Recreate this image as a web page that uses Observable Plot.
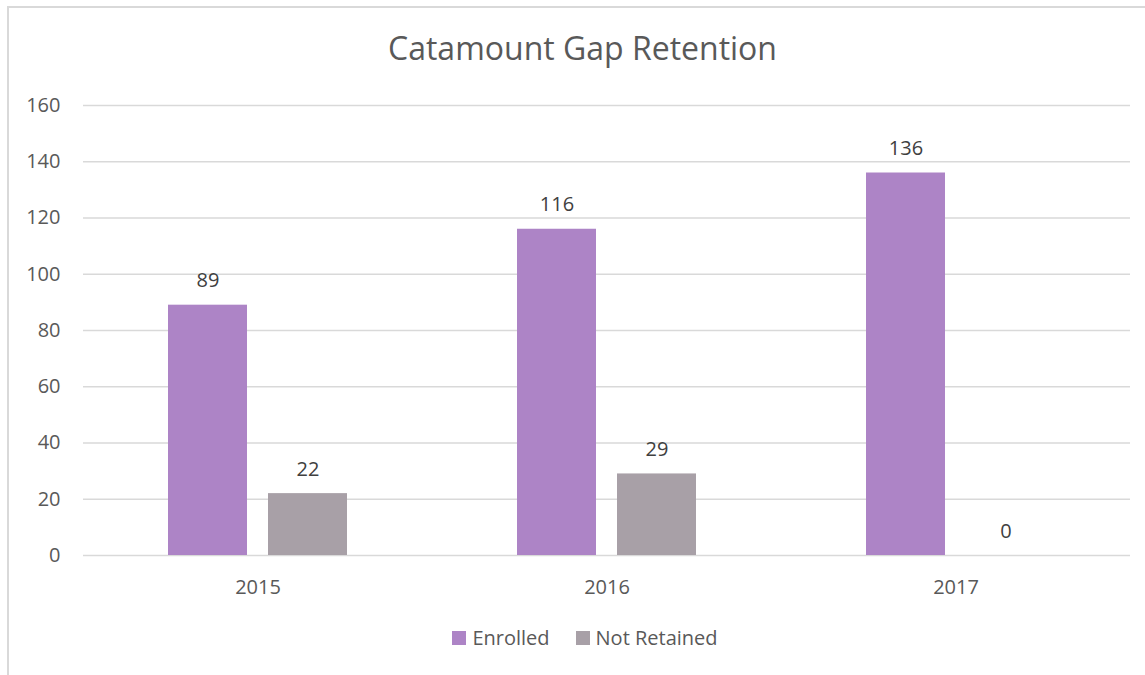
<!DOCTYPE html>
<html><head><meta charset="utf-8">
<script src="https://cdn.jsdelivr.net/npm/d3@7"></script>
<script src="https://cdn.jsdelivr.net/npm/@observablehq/plot@0.6"></script>
<style>
body{margin:0;background:#fff;font-family:"Open Sans",sans-serif;}
#wrap{position:relative;width:1145px;height:675px;overflow:hidden;background:#fff;}
#frame{position:absolute;left:7px;top:6px;width:1200px;height:720px;border-top:2px solid #d9d9d9;border-left:2px solid #d9d9d9;}
#title{position:absolute;left:0;top:32px;width:1165px;text-align:center;font-size:32px;line-height:32px;color:#595959;}
#chart{position:absolute;left:0;top:80px;}
#legend{position:absolute;left:0;top:628px;width:1170px;display:flex;justify-content:center;font-size:20px;line-height:20px;color:#595959;}
.item{display:flex;align-items:center;margin:0 13px;}
.sw{width:14px;height:14px;margin-right:6px;}
</style>
</head><body>
<div id="wrap">
  <div id="frame"></div>
  <div id="title">Catamount Gap Retention</div>
  <div id="chart"></div>
  <div id="legend"></div>
</div>
<script>
const years = ["2015", "2016", "2017"];
const series = ["Enrolled", "Not Retained"];
const enrolled = [89, 116, 136];
const notRetained = [22, 29, 0];
const yTicks = [0, 20, 40, 60, 80, 100, 120, 140, 160];
const colors = ["#AD84C6", "#A8A0A7"];

const data = [];
years.forEach((y, i) => {
  data.push({year: y, series: series[0], value: enrolled[i]});
  data.push({year: y, series: series[1], value: notRetained[i]});
});

const chart = Plot.plot({
  width: 1145,
  height: 530,
  marginTop: 25,
  marginBottom: 55,
  marginLeft: 83,
  marginRight: 15,
  style: {fontFamily: "'Open Sans', sans-serif", fontSize: "20px", color: "#595959", background: "transparent"},
  fx: {domain: years, padding: 0, label: null},
  x: {domain: series, paddingInner: 0.21, paddingOuter: 0.85, axis: null},
  y: {domain: [0, 160], axis: null},
  color: {domain: series, range: colors},
  marks: [
    Plot.gridY(yTicks, {stroke: "#d9d9d9", strokeOpacity: 1, strokeWidth: 1.5}),
    Plot.axisY(yTicks, {tickSize: 0, tickPadding: 23, fontSize: 20, label: null, facetAnchor: "left"}),
    Plot.axisFx({anchor: "bottom", tickSize: 0, tickPadding: 24, fontSize: 20, label: null}),
    Plot.barY(data, {fx: "year", x: "series", y: "value", fill: "series"}),
    Plot.text(data, {fx: "year", x: "series", y: "value", text: d => String(d.value), lineAnchor: "bottom", dy: -18, fontSize: 20, fill: "#404040"})
  ]
});
document.getElementById("chart").appendChild(chart);

const legend = document.getElementById("legend");
series.forEach((s, i) => {
  const item = document.createElement("div");
  item.className = "item";
  const sw = document.createElement("div");
  sw.className = "sw";
  sw.style.background = colors[i];
  const label = document.createElement("span");
  label.textContent = s;
  item.appendChild(sw);
  item.appendChild(label);
  legend.appendChild(item);
});
</script>
</body></html>
